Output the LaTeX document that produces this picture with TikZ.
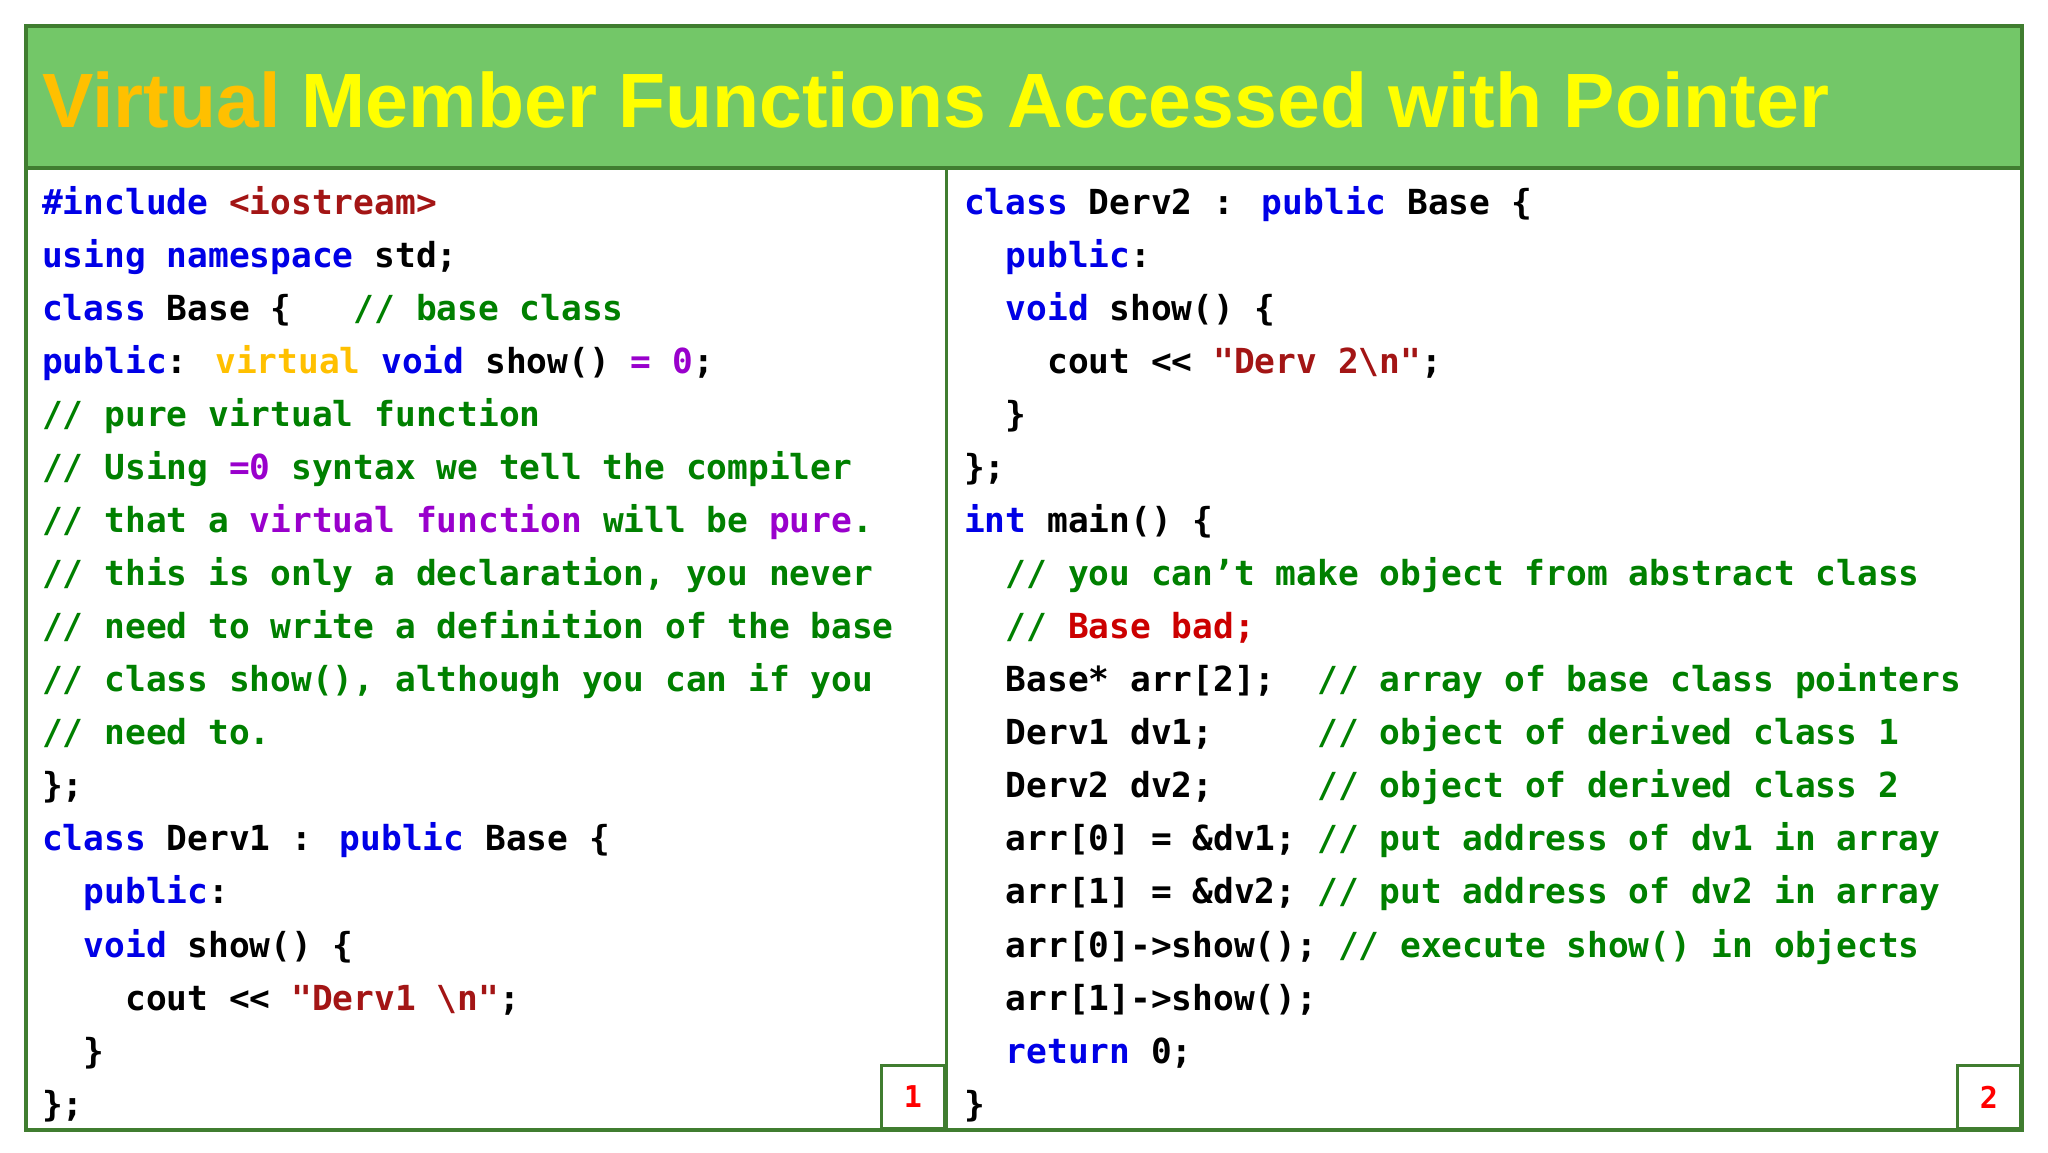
\documentclass[tikz,border=0pt]{standalone}
\usepackage{fontspec}
\newfontfamily\codefont{DejaVu Sans Mono}
\newfontfamily\titlefont{Liberation Sans}
\definecolor{hdr}{RGB}{115,199,104}
\definecolor{frame}{RGB}{64,125,48}
\definecolor{kw}{RGB}{0,0,230}
\definecolor{strc}{RGB}{163,21,21}
\definecolor{cmt}{RGB}{0,128,0}
\definecolor{purp}{RGB}{153,0,204}
\definecolor{orng}{RGB}{255,192,0}
\definecolor{ttlY}{RGB}{255,255,0}
\newcommand\K[1]{\textcolor{kw}{#1}}
\newcommand\St[1]{\textcolor{strc}{#1}}
\newcommand\C[1]{\textcolor{cmt}{#1}}
\newcommand\Pu[1]{\textcolor{purp}{#1}}
\newcommand\Or[1]{\textcolor{orng}{#1}}
\newcommand\LT{{<}{<}}
\tikzset{codeln/.style={anchor=base west,inner sep=0pt,font=\codefont\bfseries\fontsize{34.5}{40}\selectfont},
 numbox/.style={draw=frame,line width=3pt,fill=white,minimum width=63pt,minimum height=63pt,anchor=south east,inner sep=0pt,text=red,font=\codefont\bfseries\fontsize{30}{36}\selectfont}}
\newcommand\Lline[3]{\node[codeln] (L#1) at (42,{1152-215-53*(#1)}) {#3};}
\newcommand\Rline[3]{\node[codeln] (R#1) at (964,{1152-215-53*(#1)}) {#3};}
\begin{document}
\begin{tikzpicture}[x=1pt,y=1pt]
\useasboundingbox (0,0) rectangle (2048,1152);
\fill[white] (0,0) rectangle (2048,1152);
\fill[hdr] (26,984) rectangle (2022,1126);
\draw[frame,line width=4pt] (26,22) rectangle (2022,1126);
\draw[frame,line width=4pt] (26,984) -- (2022,984);
\draw[frame,line width=3pt] (946,22) -- (946,984);
\node[anchor=west,inner sep=0pt] (title) at (42,1052) {\resizebox{1787pt}{!}{\titlefont\bfseries\fontsize{60}{70}\selectfont\textcolor{orng}{Virtual} \textcolor{ttlY}{Member Functions Accessed with Pointer}}};
\Lline{0}{}{\K{\#include} \St{<iostream>}}
\Lline{1}{}{\K{using namespace} std;}
\Lline{2}{}{\K{class} Base \{~~~\C{// base class}}
\Lline{3}{}{\K{public}: \Or{virtual} \K{void} show() \Pu{= 0};}
\Lline{4}{}{\C{// pure virtual function}}
\Lline{5}{}{\C{// Using \Pu{=0} syntax we tell the compiler}}
\Lline{6}{}{\C{// that a \Pu{virtual function} will be \Pu{pure}.}}
\Lline{7}{}{\C{// this is only a declaration, you never}}
\Lline{8}{}{\C{// need to write a definition of the base}}
\Lline{9}{}{\C{// class show(), although you can if you}}
\Lline{10}{}{\C{// need to.}}
\Lline{11}{}{\};}
\Lline{12}{}{\K{class} Derv1 : \K{public} Base \{}
\Lline{13}{}{~~\K{public}:}
\Lline{14}{}{~~\K{void} show() \{}
\Lline{15}{}{~~~~cout \LT{} \St{"Derv1 \textbackslash n"};}
\Lline{16}{}{~~\}}
\Lline{17}{}{\};}
\Rline{0}{}{\K{class} Derv2 : \K{public} Base \{}
\Rline{1}{}{~~\K{public}:}
\Rline{2}{}{~~\K{void} show() \{}
\Rline{3}{}{~~~~cout \LT{} \St{"Derv 2\textbackslash n"};}
\Rline{4}{}{~~\}}
\Rline{5}{}{\};}
\Rline{6}{}{\K{int} main() \{}
\Rline{7}{}{~~\C{// you can’t make object from abstract class}}
\Rline{8}{}{~~\C{//} \textcolor{red!80!black}{Base bad;}}
\Rline{9}{}{~~Base* arr[2];~~\C{// array of base class pointers}}
\Rline{10}{}{~~Derv1 dv1;~~~~~\C{// object of derived class 1}}
\Rline{11}{}{~~Derv2 dv2;~~~~~\C{// object of derived class 2}}
\Rline{12}{}{~~arr[0] = \&dv1; \C{// put address of dv1 in array}}
\Rline{13}{}{~~arr[1] = \&dv2; \C{// put address of dv2 in array}}
\Rline{14}{}{~~arr[0]->show(); \C{// execute show() in objects}}
\Rline{15}{}{~~arr[1]->show();}
\Rline{16}{}{~~\K{return} 0;}
\Rline{17}{}{\}}
\node[numbox] (n1) at (946,22) {1};
\node[numbox] (n2) at (2022,22) {2};
\end{tikzpicture}
\end{document}
